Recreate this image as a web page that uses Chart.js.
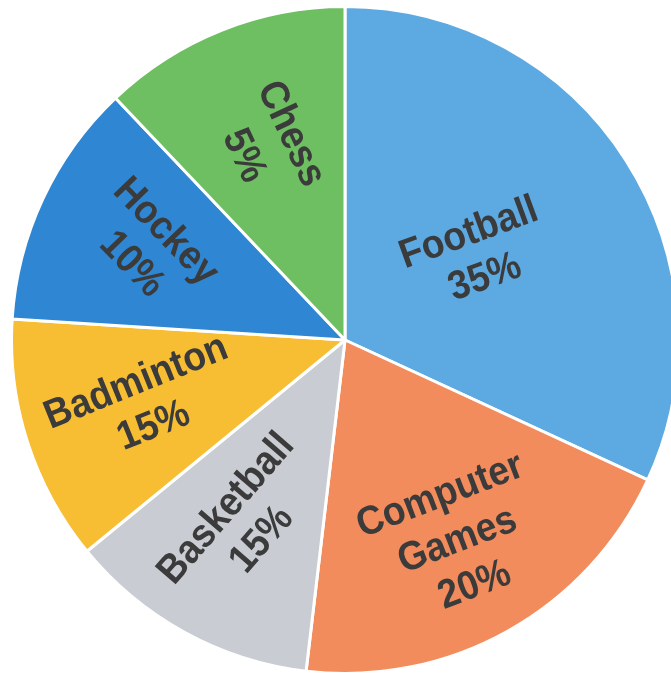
<!DOCTYPE html>
<html>
<head>
<meta charset="utf-8">
<script src="https://cdn.jsdelivr.net/npm/chart.js@4.4.0/dist/chart.umd.min.js"></script>
<style>
  html, body { margin: 0; padding: 0; background: #fff; overflow: hidden; }
  #wrap { position: absolute; left: 10px; top: 5px; width: 670px; height: 670px; }
</style>
</head>
<body>
<div id="wrap"><canvas id="myChart"></canvas></div>
<script>
// categories, clockwise from 12 o'clock
let labels = ["Football", "Computer Games", "Basketball", "Badminton", "Hockey", "Chess"];
// printed shares on the slices
let shares = [35, 20, 15, 15, 10, 5];
// slice sizes as drawn in the picture (degrees of the circle)
let sliceSizes = [114.8, 71.9, 44.0, 42.9, 42.9, 43.5];
let colorHex = ['#5DA9E1', '#F28C5D', '#C9CDD3', '#F8BE33', '#2F86D3', '#6EBE62'];

// label placement: fraction of radius, text rotation in degrees
let labelLines = [["Football"], ["Computer", "Games"], ["Basketball"], ["Badminton"], ["Hockey"], ["Chess"]];
let labelRadius = [0.47, 0.69, 0.63, 0.63, 0.65, 0.63];
let labelRotation = [-20, -21, -49, -22, 46, 65];
let lineGap = [47, 48, 47, 47, 47, 52];

const sliceText = {
  id: 'sliceText',
  afterDatasetsDraw(chart) {
    const c = chart.ctx;
    const arcs = chart.getDatasetMeta(0).data;
    arcs.forEach((arc, i) => {
      const p = arc.getProps(['x', 'y', 'startAngle', 'endAngle', 'outerRadius'], true);
      const mid = (p.startAngle + p.endAngle) / 2;
      const r = p.outerRadius * labelRadius[i];
      const lines = labelLines[i].concat([shares[i] + '%']);
      const lh = lineGap[i];
      c.save();
      c.translate(p.x + Math.cos(mid) * r, p.y + Math.sin(mid) * r);
      c.rotate(labelRotation[i] * Math.PI / 180);
      c.scale(1.03, 1.12);
      c.font = 'bold 36px "Liberation Sans", Arial, sans-serif';
      c.fillStyle = '#3b3b3b';
      c.textAlign = 'center';
      c.textBaseline = 'middle';
      lines.forEach((t, k) => {
        c.fillText(t, 0, (k - (lines.length - 1) / 2) * lh / 1.12);
      });
      c.restore();
    });
  }
};

let ctx = document.getElementById('myChart').getContext('2d');
let myChart = new Chart(ctx, {
  type: 'pie',
  data: {
    labels: labels,
    datasets: [{
      data: sliceSizes,
      backgroundColor: colorHex,
      borderColor: '#fff',
      borderWidth: 3
    }]
  },
  options: {
    responsive: true,
    maintainAspectRatio: false,
    animation: false,
    devicePixelRatio: 1,
    layout: { padding: 0 },
    plugins: {
      legend: { display: false },
      tooltip: { enabled: false }
    }
  },
  plugins: [sliceText]
});
</script>
</body>
</html>
